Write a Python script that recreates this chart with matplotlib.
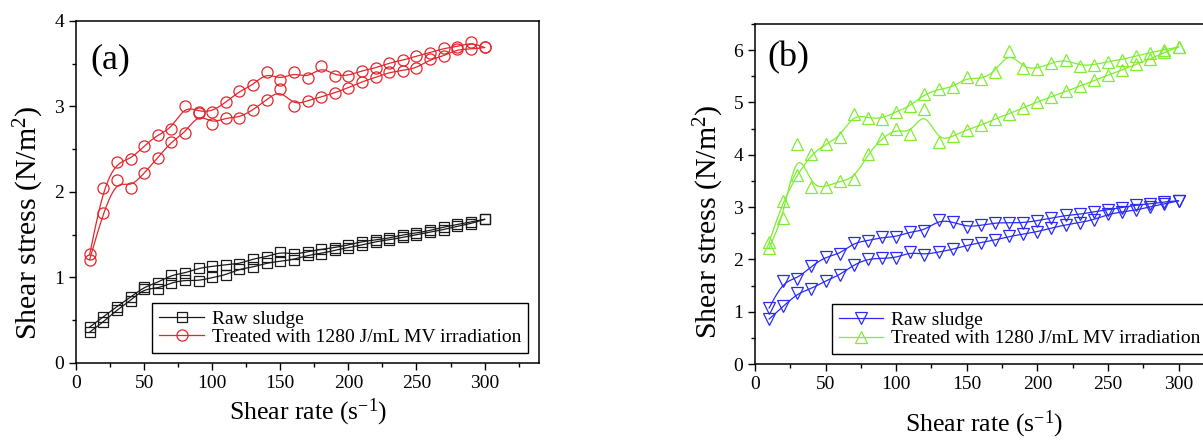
import matplotlib
matplotlib.use("Agg")
import matplotlib.pyplot as plt
from matplotlib.lines import Line2D
from matplotlib.ticker import MultipleLocator
import numpy as np

plt.rcParams['font.family'] = ['Liberation Serif', 'DejaVu Serif']
plt.rcParams['mathtext.fontset'] = 'custom'
plt.rcParams['mathtext.rm'] = 'Liberation Serif'
plt.rcParams['mathtext.default'] = 'regular'

# shear rate (1/s), same for every branch
shear_rate = [10, 20, 30, 40, 50, 60, 70, 80, 90, 100,
              110, 120, 130, 140, 150, 160, 170, 180, 190, 200,
              210, 220, 230, 240, 250, 260, 270, 280, 290, 300]

# (a) raw sludge, two branches of the loop
raw_a_up = [0.42, 0.54, 0.66, 0.77, 0.89, 0.94, 1.03, 1.05, 1.11, 1.13,
            1.15, 1.16, 1.22, 1.24, 1.30, 1.27, 1.30, 1.33, 1.35, 1.38,
            1.42, 1.44, 1.46, 1.50, 1.52, 1.55, 1.59, 1.62, 1.65, 1.68]
raw_a_down = [0.36, 0.48, 0.62, 0.73, 0.87, 0.87, 0.94, 0.97, 0.96, 1.00,
              1.03, 1.10, 1.12, 1.17, 1.19, 1.21, 1.26, 1.28, 1.32, 1.35,
              1.38, 1.42, 1.44, 1.47, 1.50, 1.53, 1.56, 1.60, 1.63, 1.68]
# (a) treated 1280 J/mL
trt_a_up = [1.27, 2.05, 2.35, 2.38, 2.54, 2.67, 2.74, 3.01, 2.94, 2.94,
            3.05, 3.18, 3.25, 3.40, 3.31, 3.40, 3.33, 3.47, 3.36, 3.36,
            3.42, 3.45, 3.51, 3.54, 3.59, 3.63, 3.68, 3.70, 3.75, 3.69]
trt_a_down = [1.21, 1.76, 2.14, 2.05, 2.22, 2.40, 2.59, 2.69, 2.92, 2.80,
              2.87, 2.87, 2.96, 3.08, 3.20, 3.01, 3.07, 3.11, 3.16, 3.22,
              3.29, 3.34, 3.40, 3.42, 3.45, 3.55, 3.59, 3.67, 3.67, 3.69]

# (b) raw sludge
raw_b_up = [1.07, 1.58, 1.63, 1.87, 2.05, 2.10, 2.32, 2.36, 2.42, 2.43,
            2.53, 2.55, 2.75, 2.72, 2.62, 2.65, 2.70, 2.70, 2.70, 2.74,
            2.79, 2.84, 2.86, 2.91, 2.95, 2.99, 3.04, 3.06, 3.10, 3.12]
raw_b_down = [0.86, 1.10, 1.35, 1.44, 1.59, 1.70, 1.90, 2.01, 2.02, 2.03,
              2.14, 2.09, 2.14, 2.19, 2.27, 2.32, 2.37, 2.44, 2.48, 2.53,
              2.60, 2.66, 2.70, 2.76, 2.86, 2.91, 2.94, 3.01, 3.06, 3.12]
# (b) treated 1280 J/mL
trt_b_up = [2.33, 3.12, 3.62, 4.01, 4.20, 4.34, 4.78, 4.70, 4.69, 4.82,
            4.93, 5.16, 5.25, 5.29, 5.48, 5.44, 5.58, 5.98, 5.66, 5.64,
            5.76, 5.82, 5.70, 5.72, 5.78, 5.82, 5.89, 5.95, 6.01, 6.06]
trt_b_down = [2.22, 2.80, 4.20, 3.38, 3.38, 3.50, 3.54, 4.01, 4.32, 4.50,
              4.39, 4.87, 4.25, 4.35, 4.48, 4.56, 4.69, 4.78, 4.90, 5.01,
              5.11, 5.21, 5.31, 5.42, 5.52, 5.62, 5.73, 5.83, 5.96, 6.06]

legend_labels = ["Raw sludge", "Treated with 1280 J/mL MV irradiation"]


def bspline(x, y, n=16):
    """uniform cubic B-spline through end points, data as control points"""
    x = np.asarray(x, float)
    y = np.asarray(y, float)
    px = np.concatenate([[2 * x[0] - x[1]], x, [2 * x[-1] - x[-2]]])
    py = np.concatenate([[2 * y[0] - y[1]], y, [2 * y[-1] - y[-2]]])
    t = np.linspace(0, 1, n, endpoint=False)
    b0 = (1 - t) ** 3 / 6
    b1 = (3 * t ** 3 - 6 * t ** 2 + 4) / 6
    b2 = (-3 * t ** 3 + 3 * t ** 2 + 3 * t + 1) / 6
    b3 = t ** 3 / 6
    xs, ys = [], []
    for i in range(len(px) - 3):
        xs.append(b0 * px[i] + b1 * px[i + 1] + b2 * px[i + 2] + b3 * px[i + 3])
        ys.append(b0 * py[i] + b1 * py[i + 1] + b2 * py[i + 2] + b3 * py[i + 3])
    return np.append(np.concatenate(xs), x[-1]), np.append(np.concatenate(ys), y[-1])


def draw_series(ax, branches, color, marker, ms):
    for y in branches:
        sx, sy = bspline(shear_rate, y)
        ax.plot(sx, sy, color=color, lw=0.9, zorder=2)
        ax.plot(shear_rate, y, ls='none', marker=marker, ms=ms, mfc='none',
                mec=color, mew=0.9, zorder=3)
    return Line2D([], [], color=color, lw=0.9, marker=marker, ms=ms,
                  mfc='none', mec=color, mew=0.9)


def style_axes(ax, ymax, tag, xlab_pos, ylab_pos, tag_pos):
    ax.set_xlim(0, 340)
    ax.set_ylim(0, ymax)
    ax.xaxis.set_major_locator(MultipleLocator(50))
    ax.xaxis.set_minor_locator(MultipleLocator(25))
    ax.yaxis.set_major_locator(MultipleLocator(1))
    ax.yaxis.set_minor_locator(MultipleLocator(0.5))
    ax.set_xticks([0, 50, 100, 150, 200, 250, 300])
    ax.tick_params(which='both', direction='out', top=False, right=False,
                   width=1.0, labelsize=14)
    ax.tick_params(which='major', length=5)
    ax.tick_params(which='minor', length=3)
    for sp in ax.spines.values():
        sp.set_linewidth(1.1)
    ax.set_xlabel(r'Shear rate (s$^{-1}$)', fontsize=18.5, va='bottom')
    ax.set_ylabel(r'Shear stress (N/m$^{2}$)', fontsize=21.5)
    ax.xaxis.set_label_coords(*xlab_pos)
    ax.yaxis.set_label_coords(*ylab_pos)
    ax.text(tag_pos[0], tag_pos[1], tag, transform=ax.transAxes,
            fontsize=26, va='center', ha='left')


def add_legend(ax, handles, loc, anchor):
    leg = ax.legend(handles, legend_labels, loc=loc, bbox_to_anchor=anchor,
                    borderaxespad=0, fontsize=14, frameon=True, fancybox=False,
                    edgecolor='black', framealpha=1, handlelength=2.3,
                    handletextpad=0.4, labelspacing=0.05, borderpad=0.35)
    leg.get_frame().set_linewidth(1.0)


fig = plt.figure(figsize=(12.03, 4.41), dpi=100)
ax_a = fig.add_axes([0.0632, 0.1769, 0.3849, 0.7755])
ax_b = fig.add_axes([0.6276, 0.1746, 0.3990, 0.7710])

h1 = draw_series(ax_a, [raw_a_up, raw_a_down], '#1a1a1a', 's', 7)
h2 = draw_series(ax_a, [trt_a_up, trt_a_down], '#e3262c', 'o', 8)
style_axes(ax_a, 4, '(a)', (0.5, -0.19), (-0.064, 0.41), (0.03, 0.886))
add_legend(ax_a, [h1, h2], 'lower right', (0.976, 0.029))

h3 = draw_series(ax_b, [raw_b_up, raw_b_down], '#2a2af5', 'v', 9)
h4 = draw_series(ax_b, [trt_b_up, trt_b_down], '#80ee30', '^', 9)
style_axes(ax_b, 6.5, '(b)', (0.477, -0.224), (-0.061, 0.418), (0.025, 0.9))
add_legend(ax_b, [h3, h4], 'lower left', (0.16, 0.029))

fig.savefig('out.png', dpi=100)
